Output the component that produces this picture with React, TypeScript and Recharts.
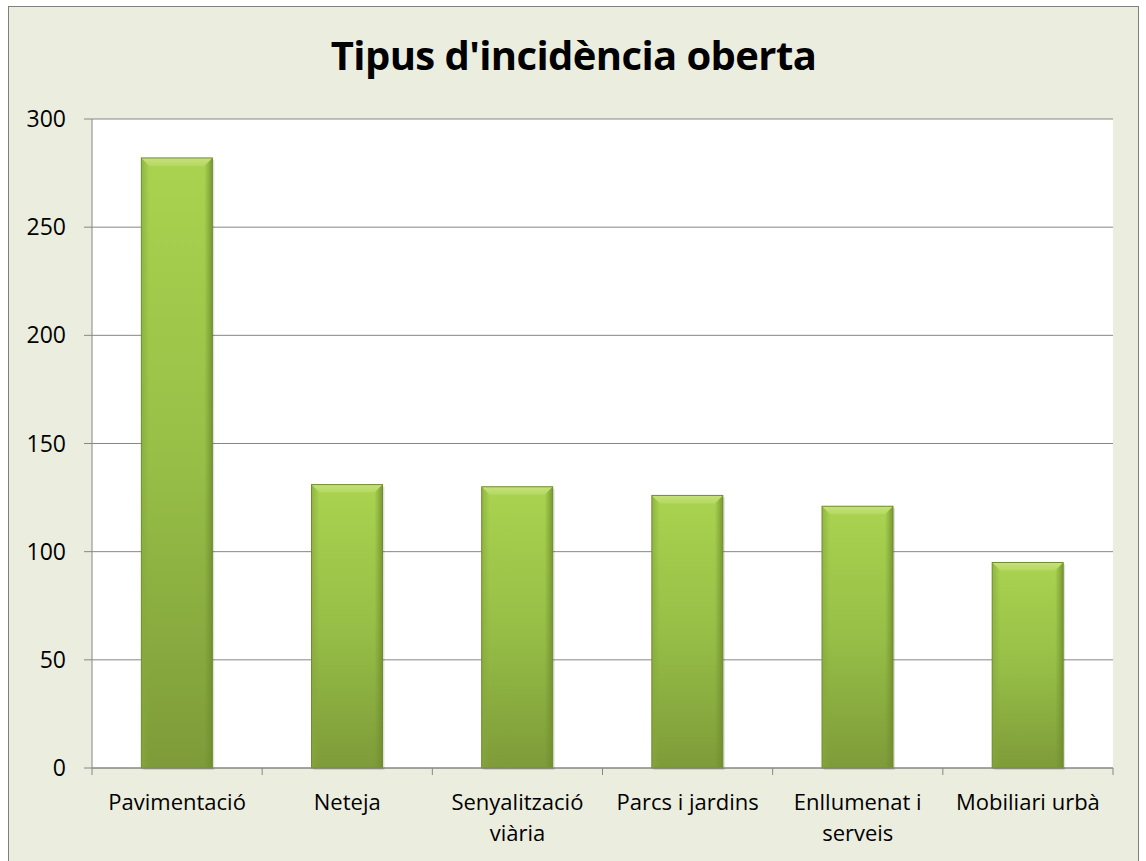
import React from 'react';
import { BarChart, Bar, XAxis, YAxis, CartesianGrid } from 'recharts';

const categories = ['Pavimentació', 'Neteja', 'Senyalització\nviària', 'Parcs i jardins', 'Enllumenat i\nserveis', 'Mobiliari urbà'];
const counts = [282, 131, 130, 126, 121, 95];
const yTicks = [0, 50, 100, 150, 200, 250, 300];

const data = categories.map((name, i) => ({ name, value: counts[i] }));

const FONT = '"Open Sans", "Noto Sans", sans-serif';
const AXIS = '#868686';

const BevelBar = (props: any) => {
  const { x, y, width, height } = props;
  if (!height || height <= 0) return null;
  const b = 8;
  return (
    <g>
      <rect x={x + 2} y={y + 2} width={width} height={height} fill="#000" opacity={0.12} />
      <rect x={x} y={y} width={width} height={height} fill="url(#barBody)" />
      <polygon points={`${x},${y} ${x + width},${y} ${x + width - b},${y + b} ${x + b},${y + b}`} fill="url(#barTop)" />
      <polygon points={`${x},${y} ${x + b},${y + b} ${x + b},${y + height} ${x},${y + height}`} fill="url(#barLeft)" />
      <polygon points={`${x + width},${y} ${x + width - b},${y + b} ${x + width - b},${y + height} ${x + width},${y + height}`} fill="url(#barRight)" />
      <rect x={x} y={y} width={width} height={height} fill="none" stroke="#6f8d2e" strokeWidth={1} />
    </g>
  );
};

const CategoryTick = (props: any) => {
  const { x, y, payload, index } = props;
  const half = payload.offset || 0;
  const lines = String(payload.value).split('\n');
  return (
    <g>
      <line x1={x - half} y1={y - 8} x2={x - half} y2={y - 1} stroke={AXIS} />
      {index === categories.length - 1 && (
        <line x1={x + half} y1={y - 8} x2={x + half} y2={y - 1} stroke={AXIS} />
      )}
      <text x={x} y={y + 34} textAnchor="middle" fontSize={22} fontFamily={FONT} fill="#000">
        {lines.map((l, i) => (
          <tspan key={i} x={x} dy={i === 0 ? 0 : 31}>{l}</tspan>
        ))}
      </text>
    </g>
  );
};

export default function App() {
  return (
    <div
      style={{
        position: 'absolute',
        left: 8,
        top: 6,
        width: 1131,
        height: 860,
        background: '#ebeedf',
        border: '1px solid #7f7f7f',
        boxSizing: 'border-box',
      }}
    >
      <div
        style={{
          position: 'absolute',
          left: 0,
          right: 0,
          top: 20,
          textAlign: 'center',
          fontFamily: FONT,
          fontWeight: 700,
          fontSize: 40,
          letterSpacing: -0.6,
          color: '#000',
        }}
      >
        Tipus d'incidència oberta
      </div>
      <BarChart
        width={1129}
        height={858}
        data={data}
        margin={{ top: 112, right: 25, bottom: 0, left: 0 }}
        barCategoryGap="29%"
      >
        <defs>
          <linearGradient id="barBody" x1="0" y1="0" x2="0" y2="1">
            <stop offset="0%" stopColor="#a9d34f" />
            <stop offset="50%" stopColor="#97bf47" />
            <stop offset="100%" stopColor="#7e9b39" />
          </linearGradient>
          <linearGradient id="barTop" x1="0" y1="0" x2="0" y2="1">
            <stop offset="0%" stopColor="#c6e27a" />
            <stop offset="100%" stopColor="#b4d862" />
          </linearGradient>
          <linearGradient id="barLeft" x1="0" y1="0" x2="1" y2="0">
            <stop offset="0%" stopColor="#86a83d" stopOpacity={0.7} />
            <stop offset="100%" stopColor="#86a83d" stopOpacity={0} />
          </linearGradient>
          <linearGradient id="barRight" x1="0" y1="0" x2="1" y2="0">
            <stop offset="0%" stopColor="#6e8c2c" stopOpacity={0} />
            <stop offset="100%" stopColor="#6e8c2c" stopOpacity={0.8} />
          </linearGradient>
        </defs>
        <CartesianGrid fill="#ffffff" vertical={false} stroke={AXIS} strokeWidth={1} />
        <XAxis
          dataKey="name"
          height={97}
          interval={0}
          axisLine={{ stroke: AXIS }}
          tickLine={false}
          tick={<CategoryTick />}
        />
        <YAxis
          width={83}
          domain={[0, 300]}
          ticks={yTicks}
          axisLine={{ stroke: AXIS }}
          tickLine={{ stroke: AXIS }}
          tickSize={8}
          tick={{ fontSize: 23, fontFamily: FONT, fill: '#000', dx: -16 }}
        />
        <Bar dataKey="value" shape={<BevelBar />} isAnimationActive={false} />
      </BarChart>
    </div>
  );
}
